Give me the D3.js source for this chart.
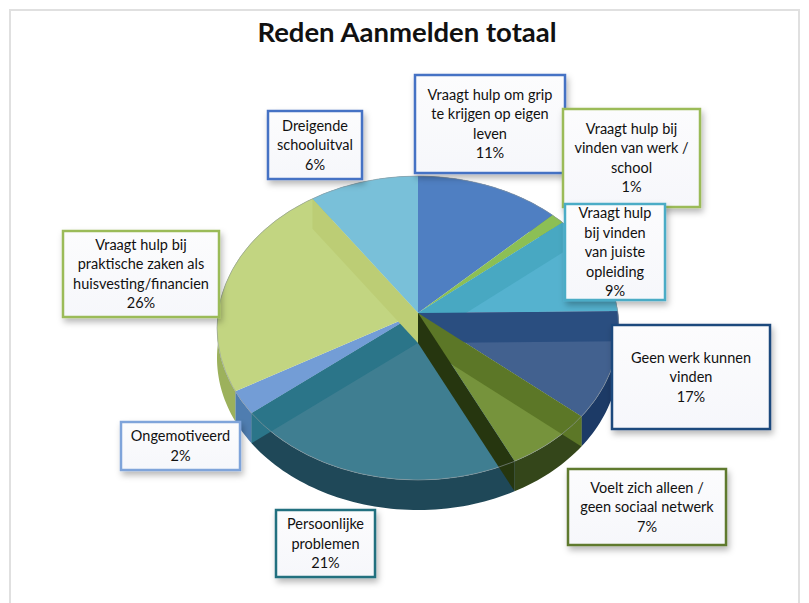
<!DOCTYPE html>
<html>
<head>
<meta charset="utf-8">
<script src="https://cdn.jsdelivr.net/npm/d3@7"></script>
<style>
    html, body { margin: 0; padding: 0; background: #fff; }
    text { font-family: Lato, "Open Sans", sans-serif; fill: #111; }
</style>
</head>
<body>
<div id="chart"></div>
<script>
const title = 'Reden Aanmelden totaal';

const categories = [
    'Vraagt hulp om grip\nte krijgen op eigen\nleven',
    'Vraagt hulp bij\nvinden van werk /\nschool',
    'Vraagt hulp\nbij vinden\nvan juiste\nopleiding',
    'Geen werk kunnen\nvinden',
    'Voelt zich alleen /\ngeen sociaal netwerk',
    'Persoonlijke\nproblemen',
    'Ongemotiveerd',
    'Vraagt hulp bij\npraktische zaken als\nhuisvesting/financien',
    'Dreigende\nschooluitval'
];

// percentages as printed on the labels
const labelPercent = [11, 1, 9, 17, 7, 21, 2, 26, 6];

// size of each wedge as it is drawn in the picture (%), the wedges there do not follow the printed numbers
const wedgeShare = [12.7, 1.2, 10.9, 11.4, 6.6, 21.4, 2.5, 23.7, 9.6];

// styles, same order as the categories
const topColors = ['#4f7fc2', '#8cbf55', '#55b2cf', '#42618f', '#76933c', '#3f7e91', '#739dd6', '#c2d581', '#79c0d9'];
const sideColors = ['#3b659c', '#6f9a3f', '#3b8ba5', '#1c3a66', '#34461a', '#1f4858', '#4f7db0', '#9cb15c', '#5fa3bb'];
const wallColors = [null, null, '#48a8c2', '#2a4e80', '#5c7727', '#26360f', '#2b7589', null, '#bccd75'];
const borderColors = ['#4472c4', '#9bbb59', '#4bacc6', '#1f497d', '#5f7a2e', '#23707f', '#7fa4da', '#9bbb59', '#4472c4'];

// label boxes: left, top, width, height
const boxes = [
    [415, 75, 150, 98],
    [563, 109, 137, 98],
    [565, 204, 100, 96],
    [612, 325, 158, 104],
    [568, 469, 158, 76],
    [276, 510, 99, 67],
    [121, 422, 119, 48],
    [63, 231, 156, 86],
    [268, 111, 94, 68]
];

const width = 809, height = 603;
const apex = { x: 418, y: 313 };
const rim = { cx: 418, cy: 328, rx: 201, ry: 152 };
const depth = 30;

const svg = d3.select('#chart').append('svg')
    .attr('width', width)
    .attr('height', height)
    .style('display', 'block');

const defs = svg.append('defs');

const shadow = defs.append('filter')
    .attr('id', 'box-shadow')
    .attr('x', '-20%').attr('y', '-20%')
    .attr('width', '140%').attr('height', '150%');
shadow.append('feDropShadow')
    .attr('dx', 2).attr('dy', 4)
    .attr('stdDeviation', 3)
    .attr('flood-color', '#000')
    .attr('flood-opacity', 0.28);

const boxFill = defs.append('linearGradient')
    .attr('id', 'box-fill')
    .attr('x1', 0).attr('y1', 0).attr('x2', 0).attr('y2', 1);
boxFill.append('stop').attr('offset', '0%').attr('stop-color', '#fcfcfd');
boxFill.append('stop').attr('offset', '100%').attr('stop-color', '#f6f7fb');

const pieClip = defs.append('clipPath').attr('id', 'pie-clip');
[0, depth].forEach(dy => {
    pieClip.append('ellipse')
        .attr('cx', rim.cx).attr('cy', rim.cy + dy)
        .attr('rx', rim.rx).attr('ry', rim.ry);
});

// chart frame
svg.append('rect')
    .attr('x', 10).attr('y', 10)
    .attr('width', 789).attr('height', 620)
    .attr('fill', 'none')
    .attr('stroke', '#e0e0e0')
    .attr('stroke-width', 2);

svg.append('text')
    .attr('x', 407).attr('y', 42)
    .attr('text-anchor', 'middle')
    .style('font-size', '27.5px')
    .style('font-weight', 'bold')
    .text(title);

// point on the outer edge of the tilted pie, the centre sits above the middle of the ellipse
function rimPoint(angle) {
    const dx = rim.rx * Math.sin(angle);
    const dy = -150 * Math.cos(angle);
    const oy = apex.y - rim.cy;
    const a = (dx * dx) / (rim.rx * rim.rx) + (dy * dy) / (rim.ry * rim.ry);
    const b = 2 * oy * dy / (rim.ry * rim.ry);
    const c = (oy * oy) / (rim.ry * rim.ry) - 1;
    const t = (-b + Math.sqrt(b * b - 4 * a * c)) / (2 * a);
    return [apex.x + t * dx, apex.y + t * dy];
}

function rimArc(a0, a1) {
    const steps = Math.max(2, Math.ceil((a1 - a0) * 40));
    return d3.range(steps + 1).map(i => rimPoint(a0 + (a1 - a0) * i / steps));
}

const line = d3.line();
const slices = d3.pie().sort(null).value(d => d)(wedgeShare);

// outer side of the pie
svg.append('g').selectAll('path')
    .data(slices)
    .join('path')
    .attr('fill', (d, i) => sideColors[i])
    .attr('d', d => {
        const arc = rimArc(d.startAngle, d.endAngle);
        const lower = arc.map(p => [p[0], p[1] + depth]).reverse();
        return line(arc.concat(lower)) + 'Z';
    });

// top surface
svg.append('g').selectAll('path')
    .data(slices)
    .join('path')
    .attr('fill', (d, i) => topColors[i])
    .attr('d', d => line([[apex.x, apex.y]].concat(rimArc(d.startAngle, d.endAngle))) + 'Z');

// cut faces seen through the slices
svg.append('g')
    .attr('clip-path', 'url(#pie-clip)')
    .selectAll('path')
    .data(slices.filter((d, i) => wallColors[i]))
    .join('path')
    .attr('fill', d => wallColors[d.index])
    .attr('d', d => {
        const p = rimPoint(d.startAngle);
        return line([[apex.x, apex.y], p, [p[0], p[1] + depth], [apex.x, apex.y + depth]]) + 'Z';
    });

// thin grey edge round the pie
svg.append('ellipse')
    .attr('cx', rim.cx).attr('cy', rim.cy)
    .attr('rx', rim.rx).attr('ry', rim.ry)
    .attr('fill', 'none')
    .attr('stroke', '#8f9a9f')
    .attr('stroke-opacity', 0.6);

// labels
const labels = svg.append('g').selectAll('g')
    .data(categories)
    .join('g')
    .attr('transform', (d, i) => `translate(${boxes[i][0]},${boxes[i][1]})`);

labels.append('rect')
    .attr('width', (d, i) => boxes[i][2])
    .attr('height', (d, i) => boxes[i][3])
    .attr('fill', 'url(#box-fill)')
    .attr('stroke', (d, i) => borderColors[i])
    .attr('stroke-width', 2.5)
    .attr('filter', 'url(#box-shadow)');

labels.append('text')
    .attr('text-anchor', 'middle')
    .style('font-size', '14.5px')
    .each(function (d, i) {
        const rows = d.split('\n').concat(labelPercent[i] + '%');
        const lineHeight = 19.5;
        const first = boxes[i][3] / 2 - (rows.length - 1) * lineHeight / 2 + 5;
        d3.select(this).selectAll('tspan')
            .data(rows)
            .join('tspan')
            .attr('x', boxes[i][2] / 2)
            .attr('y', (r, k) => first + k * lineHeight)
            .text(r => r);
    });
</script>
</body>
</html>
